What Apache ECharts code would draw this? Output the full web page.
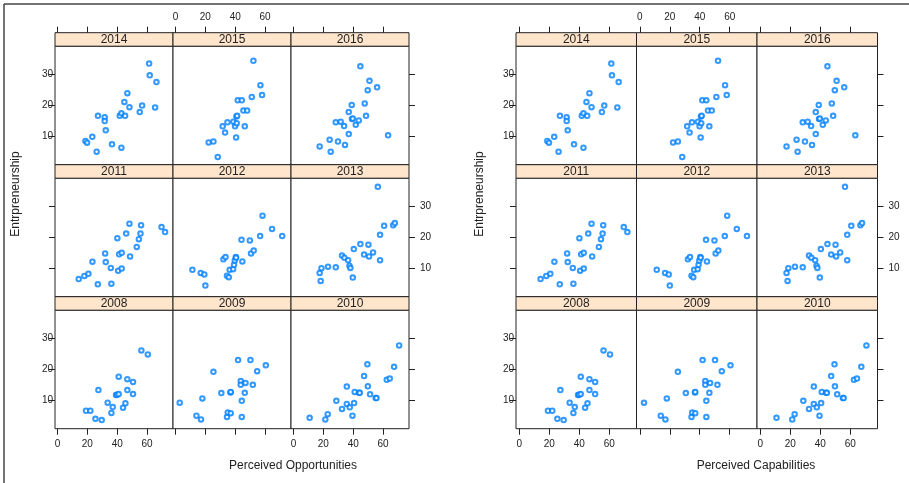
<!DOCTYPE html>
<html>
<head>
<meta charset="utf-8">
<script src="https://cdn.jsdelivr.net/npm/echarts@6/dist/echarts.min.js"></script>
<style>
  html, body { margin: 0; padding: 0; background: #fff; }
  #chart { width: 909px; height: 483px; }
</style>
</head>
<body>
<div id="chart"></div>
<script>
// panel order: top row first, left to right
const years = ['2014', '2015', '2016', '2011', '2012', '2013', '2008', '2009', '2010']

// [perceived, entrepreneurship] per year
const d2014 = [[18.7,8.4],[19.8,7.8],[23.3,9.7],[26.2,4.9],[27.1,16.5],[31.6,16.0],[31.6,14.8],[32.3,11.8],[36.5,7.3],[42.8,6.2],[41.7,16.5],[42.8,17.3],[45.3,16.5],[44.8,21.0],[46.8,23.8],[48.2,19.3],[55.1,17.7],[56.7,19.8],[61.4,33.4],[61.8,29.6],[66.3,27.4],[65.4,19.2]]
const d2015 = [[22.2,7.9],[25.4,8.2],[28.3,3.2],[31.6,13.1],[33.2,11.1],[34.8,14.4],[38.8,14.6],[39.9,13.1],[40.6,9.5],[41.0,14.1],[40.8,16.3],[41.3,16.5],[41.7,21.5],[44.4,21.5],[45.5,18.2],[48.0,18.2],[46.4,13.1],[51.1,22.6],[52.2,34.3],[56.9,26.4],[58.0,23.2]]
const d2016 = [[17.5,6.6],[24.2,8.8],[24.9,4.9],[29.8,8.2],[28.3,14.4],[31.6,14.6],[33.9,13.2],[34.5,7.1],[37.0,17.7],[37.0,10.6],[39.0,20.0],[39.2,15.5],[39.7,15.6],[41.7,13.6],[43.7,15.0],[44.8,32.5],[47.7,20.5],[48.6,16.5],[49.7,24.8],[50.9,27.8],[56.0,25.7],[63.4,10.2]]
const d2011 = [[14.2,6.4],[18.0,7.4],[20.7,8.1],[23.4,12.0],[27.0,4.7],[31.9,14.7],[32.3,11.9],[35.7,10.0],[36.1,4.9],[40.1,19.6],[40.6,9.1],[41.3,14.4],[43.0,14.9],[43.0,9.8],[46.0,21.1],[48.2,24.3],[48.6,13.7],[53.1,16.8],[54.5,19.3],[55.6,21.1],[56.0,23.8],[69.7,23.2],[72.1,21.6]]
const d2012 = [[11.3,9.4],[16.9,8.4],[19.3,7.9],[20.0,4.3],[32.1,12.8],[33.5,13.5],[34.5,7.5],[35.7,7.0],[36.3,9.4],[38.6,9.6],[39.2,11.0],[39.7,12.4],[40.4,13.5],[40.6,13.3],[44.2,19.1],[44.8,12.1],[49.8,18.9],[50.6,14.7],[52.4,15.6],[56.7,20.3],[58.3,26.9],[64.7,22.6],[71.5,20.3]]
const d2013 = [[17.5,8.4],[18.2,5.8],[18.7,9.9],[23.1,10.4],[28.3,10.2],[32.5,14.0],[34.1,13.3],[36.6,12.5],[37.5,10.7],[38.1,10.0],[39.7,6.9],[40.4,16.1],[44.8,17.7],[47.3,14.3],[50.2,17.5],[50.6,13.7],[53.3,15.0],[56.5,36.2],[58.0,12.5],[58.0,20.7],[60.7,23.6],[66.8,23.8],[67.9,24.5]]
const d2008 = [[19.1,6.5],[22.0,6.5],[25.4,3.9],[27.4,13.2],[29.6,3.5],[33.6,9.1],[36.1,5.8],[37.0,7.7],[39.2,11.6],[39.9,11.7],[41.0,11.9],[41.0,17.5],[43.9,7.5],[45.5,8.9],[46.8,13.2],[46.8,16.7],[50.6,15.8],[50.6,11.9],[56.2,26.0],[60.5,24.7]]
const d2009 = [[2.8,9.1],[14.0,4.9],[17.1,3.7],[18.0,10.5],[25.4,19.1],[30.7,12.2],[34.5,4.5],[35.0,5.9],[37.0,5.7],[36.8,12.4],[37.0,12.6],[43.7,16.1],[43.7,14.9],[44.4,9.7],[44.4,4.5],[46.4,12.3],[46.9,15.5],[41.9,22.9],[50.2,22.9],[51.8,14.9],[54.7,19.3],[60.5,21.2]]
const d2010 = [[10.8,4.2],[21.3,3.7],[22.9,5.4],[28.7,9.7],[32.5,7.1],[35.7,14.3],[35.7,8.7],[37.7,7.6],[39.5,4.9],[40.6,9.0],[41.0,12.6],[43.9,12.3],[44.4,12.3],[47.3,17.7],[49.5,21.5],[49.8,14.4],[51.3,11.8],[55.1,10.6],[55.6,10.6],[62.5,16.5],[64.5,16.9],[67.4,20.7],[70.8,27.6]]
const panelData = [d2014, d2015, d2016, d2011, d2012, d2013, d2008, d2009, d2010]

const xTicks = [0, 20, 40, 60]
const yTicks = [10, 20, 30]
const xTitles = ['Perceived Opportunities', 'Perceived Capabilities']
const yTitle = 'Entrpreneurship'

const font = 'Liberation Sans, Arial, sans-serif'
const ink = '#222'

// two lattice figures side by side
const figs = [
  {left: 55, colW: 118, xMin: -1.7, xMax: 77.4, xTitleX: 293, yTitleX: 16},
  {left: 516, colW: 120.5, xMin: -2.2, xMax: 78.2, xTitleX: 756, yTitleX: 480}
]
const rowTop = [32.7, 164.7, 296.7]
const stripH = 13.5
const panelH = 118.5

const grid = [], xAxis = [], yAxis = [], series = [], graphic = []

figs.forEach((f, fi) => {
  for (let i = 0; i < 9; i++) {
    const r = Math.floor(i / 3), c = i % 3
    const left = f.left + c * f.colW
    const top = rowTop[r] + stripH
    const idx = grid.length
    grid.push({
      left: left, top: top, width: f.colW, height: panelH,
      show: true, borderColor: ink, borderWidth: 1, backgroundColor: '#fff'
    })
    xAxis.push({
      type: 'value', gridIndex: idx, min: f.xMin, max: f.xMax,
      show: r !== 1,
      position: r === 0 ? 'top' : 'bottom',
      offset: r === 0 ? stripH : 0,
      splitLine: {show: false},
      axisLine: {show: false, onZero: false},
      axisTick: {show: true, inside: false, length: 6, lineStyle: {color: ink}, customValues: xTicks},
      axisLabel: {
        show: (r === 0 && c === 1) || (r === 2 && c !== 1),
        customValues: xTicks, margin: r === 0 ? 10 : 11,
        fontSize: 10, color: ink, fontFamily: font
      }
    })
    yAxis.push({
      type: 'value', gridIndex: idx, min: 0.7, max: 39,
      show: c !== 1,
      position: c === 2 ? 'right' : 'left',
      splitLine: {show: false},
      axisLine: {show: false, onZero: false},
      axisTick: {show: true, inside: false, length: 6, lineStyle: {color: ink}, customValues: yTicks},
      axisLabel: {
        show: (c === 0 && r !== 1) || (c === 2 && r === 1),
        customValues: yTicks, margin: c === 0 ? 2 : 11,
        fontSize: 10, color: ink, fontFamily: font
      }
    })
    series.push({
      type: 'scatter', xAxisIndex: idx, yAxisIndex: idx,
      data: panelData[i],
      symbol: 'emptyCircle', symbolSize: 4.5,
      itemStyle: {color: '#0080ff', borderWidth: 1},
      silent: true
    })
    // strip with the year
    graphic.push({
      type: 'rect',
      shape: {x: left, y: rowTop[r], width: f.colW, height: stripH},
      style: {fill: '#ffe5cc', stroke: ink, lineWidth: 1}
    })
    graphic.push({
      type: 'text', x: left + f.colW / 2, y: rowTop[r] + stripH / 2 + 0.5,
      style: {text: years[i], fontSize: 12, fontFamily: font, fill: ink, align: 'center', verticalAlign: 'middle'}
    })
  }
  graphic.push({
    type: 'text', x: f.xTitleX, y: 466,
    style: {text: xTitles[fi], fontSize: 12, fontFamily: font, fill: ink, align: 'center', verticalAlign: 'middle'}
  })
  graphic.push({
    type: 'text', x: f.yTitleX, y: 194, rotation: Math.PI / 2,
    style: {text: yTitle, fontSize: 12, fontFamily: font, fill: ink, align: 'center', verticalAlign: 'middle'}
  })
})

// outer frame (top and left edges)
graphic.push({type: 'line', shape: {x1: 4, y1: 4, x2: 909, y2: 4}, style: {stroke: '#444', lineWidth: 1.5}})
graphic.push({type: 'line', shape: {x1: 4, y1: 4, x2: 4, y2: 483}, style: {stroke: '#444', lineWidth: 1.5}})

const myChart = echarts.init(document.getElementById('chart'))
myChart.setOption({
  animation: false,
  backgroundColor: '#fff',
  grid: grid,
  xAxis: xAxis,
  yAxis: yAxis,
  series: series,
  graphic: graphic
})
</script>
</body>
</html>
